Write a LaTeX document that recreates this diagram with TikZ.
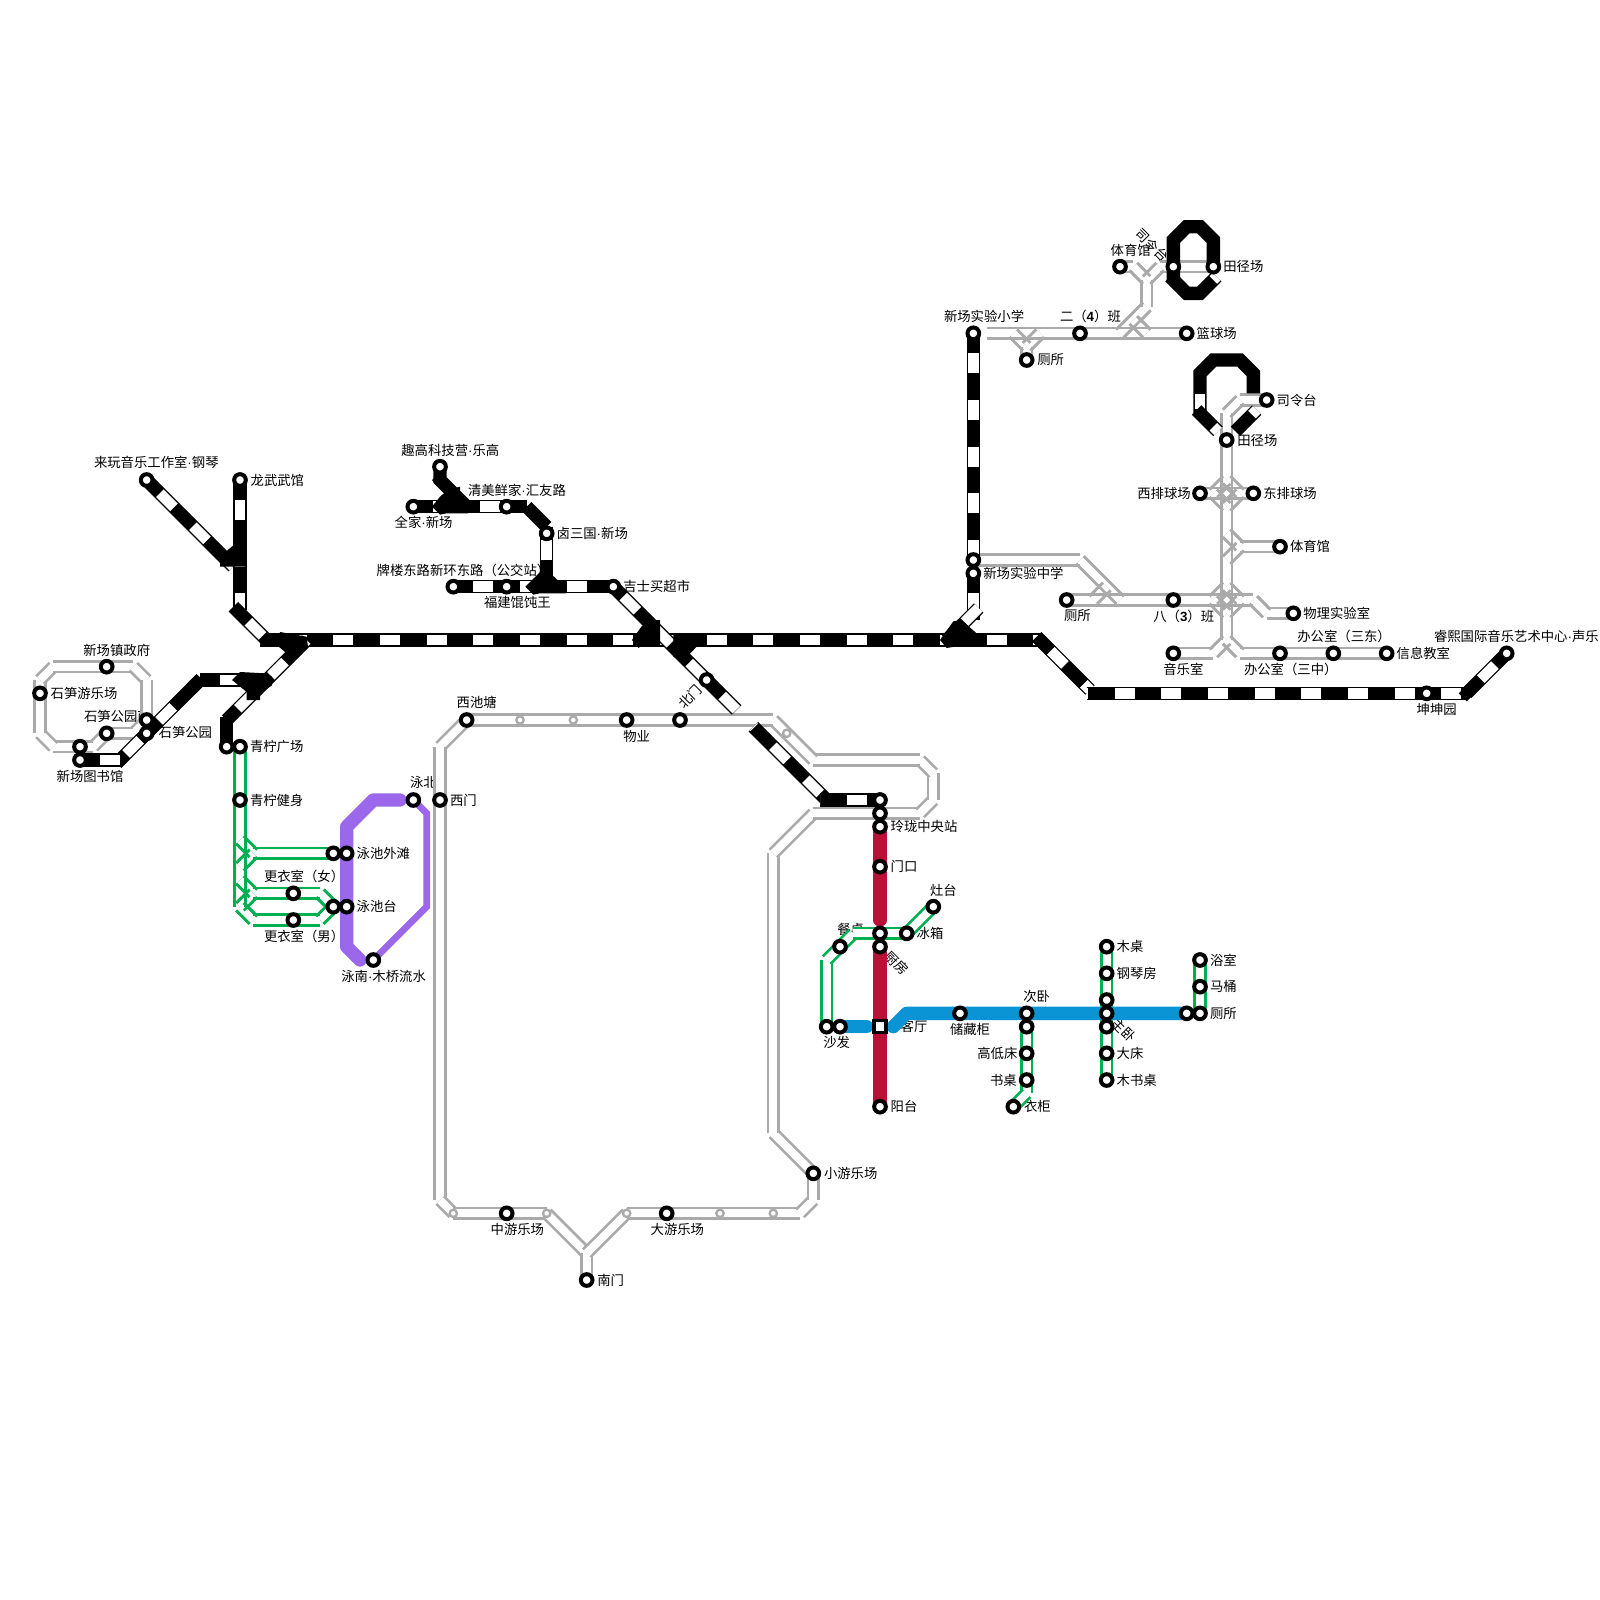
\documentclass[tikz,border=0pt]{standalone}
\usepackage{fontspec}
\setmainfont{Noto Sans CJK SC}
\newfontfamily\latf{Liberation Sans}
\newcommand\dt{{\latf ·}}
\usetikzlibrary{decorations.pathreplacing,calc}
\pgfdeclarelayer{front}
\pgfsetlayers{main,front}
\definecolor{grayline}{HTML}{AAAAAA}
\definecolor{greenline}{HTML}{00B050}
\definecolor{redline}{HTML}{BA1139}
\definecolor{blueline}{HTML}{0A94D6}
\definecolor{purpleline}{HTML}{9B68EC}
\tikzset{
  stn/.style={circle,draw=black,fill=white,line width=0.12cm,minimum size=0.35cm,inner sep=0pt,outer sep=0pt},
  smallstn/.style={circle,draw=grayline,fill=white,line width=0.07cm,minimum size=0.22cm,inner sep=0pt,outer sep=0pt},
  sqstn/.style={rectangle,draw=black,fill=white,line width=0.1cm,minimum size=0.36cm,inner sep=0pt,outer sep=0pt},
  lb/.style={anchor=west,inner sep=0pt,outer sep=0pt,font=\fontsize{11.4}{13}\selectfont},
  lbc/.style={anchor=center,inner sep=0pt,outer sep=0pt,font=\fontsize{11.4}{13}\selectfont},
  dbl/.style={decorate,decoration={show path construction,
    lineto code={
      \draw[line width=0.4cm,#1,line cap=butt] (\tikzinputsegmentfirst)--(\tikzinputsegmentlast);
      \draw[line width=0.24cm,white,line cap=butt] (\tikzinputsegmentfirst)--(\tikzinputsegmentlast);
    }}},
  edg/.style={decorate,decoration={show path construction,
    lineto code={
      \coordinate (Fp) at (\tikzinputsegmentfirst);
      \coordinate (Lp) at (\tikzinputsegmentlast);
      \draw[line width=0.08cm,#1,line cap=butt] ($(Fp)!0.16cm!90:(Lp)$)--($(Lp)!0.16cm!-90:(Fp)$);
      \draw[line width=0.08cm,#1,line cap=butt] ($(Fp)!0.16cm!-90:(Lp)$)--($(Lp)!0.16cm!90:(Fp)$);
    }}},
  blko/.style={line width=0.4cm,black,line cap=butt,miter limit=10},
  blki/.style={line width=0.32cm,white,line cap=butt},
  wide/.style={line width=0.4cm,line cap=round,line join=round},
}
\newcommand\blk[2]{\pgfmathsetmacro\dph{(3.5-#1)*0.4}
  \draw[blko] #2; \draw[blki,dash pattern=on 0.6cm off 0.8cm,dash phase=\dph cm] #2;}
\newcommand\lab[4]{\node[lb] (#1) at (#2,#3) {#4};}
\newcommand\st[3]{\node[stn] (#1) at (#2,#3) {};}
\newcommand\sms[3]{\node[smallstn] (#1) at (#2,#3) {};}
% gray interchanges, drawn once filled and once as bare edges
\newcommand\junctionsGray[1]{
\path[#1] (74,25)--(ers.center)--(lq.center);
\path[#1] (csb.center)--(77,26)--(76,25);
\path[#1] (77,26)--(78,25);
\path[#1] (tyg.center)--(85,20)--(86,21)--(86,23)--(85,24)--(84,25);
\path[#1] (85,24)--(86,25);
\path[#1] (tjz.center)--(87,20)--(86,21);
\path[#1] (tjz.center)--(tj.center);
\path[#1] (slt.center)--(93,30)--(92,31)--(tjb.center)--(92,48);
\path[#1] (92,48)--(91,49)--(yy.center);
\path[#1] (92,48)--(93,49)--(bgs.center)--(bgd.center)--(xx.center);
\path[#1] (xp.center)--(dp.center);
\path[#1] (91,37)--(92,36);\path[#1] (91,37)--(92,38);
\path[#1] (93,37)--(92,36);\path[#1] (93,37)--(92,38);
\path[#1] (tyb.center)--(93,41)--(92,40);\path[#1] (93,41)--(92,42);
\path[#1] (csc.center)--(bs.center)--(94,45);
\path[#1] (94,45)--(95,46)--(wl.center);
\path[#1] (91,45)--(92,44);\path[#1] (91,45)--(92,46);
\path[#1] (93,45)--(92,44);\path[#1] (93,45)--(92,46);
\path[#1] (xzz.center)--(81,42)--(84,45);
\path[#1] (83,44)--(82,45);
}
\newcommand\junctionsGreen[1]{
\path[#1] (qn.center)--(qnj.center)--(18,68);
\path[#1] (ywz.center)--(19,64)--(18,63);\path[#1] (19,64)--(18,65);
\path[#1] (ytz.center)--(24,67)--(gf.center)--(19,67)--(18,66);\path[#1] (19,67)--(18,68);
\path[#1] (ytz.center)--(24,69)--(gm.center)--(19,69)--(18,68);
}
\begin{document}
\begin{tikzpicture}[x=0.4cm,y=-0.4cm]
\path[use as bounding box,fill=white] (0,0) rectangle (120,120);
% labels
\lab{l1}{18.8}{36}{龙武武馆}
\lab{l2}{7.05}{34.7}{来玩音乐工作室\dt 钢琴}
\lab{l3}{6.25}{48.75}{新场镇政府}
\lab{l4}{3.8}{52}{石笋游乐场}
\lab{l5}{6.3}{53.7}{石笋公园南}
\lab{l6}{11.9}{54.95}{石笋公园}
\lab{l7}{4.25}{58.2}{新场图书馆}
\lab{l8}{18.75}{56}{青柠广场}
\lab{l9}{18.75}{60}{青柠健身}
\lab{l10}{30.1}{33.75}{趣高科技营\dt 乐高}
\lab{l11}{35.1}{36.75}{清美鲜家\dt 汇友路}
\lab{l12}{29.6}{39.2}{全家\dt 新场}
\lab{l13}{41.75}{40}{卤三国\dt 新场}
\lab{l14}{28.25}{42.75}{牌楼东路新环东路（公交站）}
\lab{l15}{36.3}{45.2}{福建馄饨王}
\lab{l16}{46.75}{44}{吉士买超市}
\lab{l17}{34.25}{52.7}{西池塘}
\lab{l18}{46.75}{55.2}{物业}
\node[lbc,rotate=45] (l19) at (51.75,52.25) {北门};
\lab{l20}{83.3}{18.75}{体育馆}
\node[lbc,rotate=-45] (l21) at (86.4,18.4) {司令台};
\lab{l22}{91.75}{20}{田径场}
\lab{l23}{70.8}{23.7}{新场实验小学}
\lab{l24}{79.5}{23.7}{二（{\latf\bfseries 4}）班}
\lab{l25}{89.75}{25}{篮球场}
\lab{l26}{77.8}{27}{厕所}
\lab{l27}{95.75}{30}{司令台}
\lab{l28}{92.8}{33}{田径场}
\lab{l29}{85.3}{37}{西排球场}
\lab{l30}{94.75}{37}{东排球场}
\lab{l31}{96.75}{41}{体育馆}
\lab{l32}{73.75}{43}{新场实验中学}
\lab{l33}{79.8}{46.2}{厕所}
\lab{l34}{86.5}{46.2}{八（{\latf\bfseries 3}）班}
\lab{l35}{97.75}{46}{物理实验室}
\lab{l36}{87.25}{50.2}{音乐室}
\lab{l37}{93.3}{50.2}{办公室（三中）}
\lab{l38}{97.3}{47.7}{办公室（三东）}
\lab{l39}{104.75}{49}{信息教室}
\lab{l40}{107.55}{47.7}{睿熙国际音乐艺术中心\dt 声乐}
\lab{l41}{106.25}{53.2}{坤坤园}
\lab{l42}{66.8}{61.95}{玲珑中央站}
\lab{l43}{66.8}{65}{门口}
\lab{l44}{69.75}{66.75}{灶台}
\lab{l45}{68.75}{70}{冰箱}
\lab{l46}{62.8}{69.7}{餐桌}
\node[lbc,rotate=-45] (l47) at (67.25,72.25) {厨房};
\lab{l48}{67.55}{76.95}{客厅}
\lab{l49}{71.25}{77.2}{储藏柜}
\lab{l50}{61.75}{78.2}{沙发}
\lab{l51}{66.8}{83}{阳台}
\lab{l52}{73.3}{79}{高低床}
\lab{l53}{74.25}{81}{书桌}
\lab{l54}{76.75}{74.7}{次卧}
\lab{l55}{76.8}{83}{衣柜}
\lab{l56}{83.75}{71}{木桌}
\lab{l57}{83.75}{73}{钢琴房}
\node[lbc,rotate=-45] (l58) at (84.3,77.25) {主卧};
\lab{l59}{83.75}{79}{大床}
\lab{l60}{83.75}{81}{木书桌}
\lab{l61}{90.75}{72}{浴室}
\lab{l62}{90.75}{74}{马桶}
\lab{l63}{90.75}{76}{厕所}
\lab{l64}{30.75}{58.7}{泳北}
\lab{l65}{33.75}{60}{西门}
\lab{l66}{26.75}{64}{泳池外滩}
\lab{l67}{19.8}{65.7}{更衣室（女）}
\lab{l68}{26.75}{68}{泳池台}
\lab{l69}{19.8}{70.2}{更衣室（男）}
\lab{l70}{25.6}{73.2}{泳南\dt 木桥流水}
\lab{l71}{61.8}{88}{小游乐场}
\lab{l72}{36.8}{92.2}{中游乐场}
\lab{l73}{48.8}{92.2}{大游乐场}
\lab{l74}{44.8}{96}{南门}
% stations on front layer
\begin{pgfonlayer}{front}
\st{laiwan}{11}{36}\st{longwu}{18}{36}\st{yule}{3}{52}\st{zhengfu}{8}{50}
\st{gyn}{11}{54}\st{gy}{11}{55}\st{gyb}{8}{55}\st{libz}{6}{56}\st{lib}{6}{57}
\st{qnz}{17}{56}\st{qn}{18}{56}\st{qnj}{18}{60}
\st{qugao}{33}{35}\st{qj}{31}{38}\st{qm}{38}{38}\st{lu}{41}{40}
\st{pl}{34}{44}\st{fj}{38}{44}\st{js}{46}{44}\st{bmb}{53}{51}
\st{xct}{35}{54}\st{wy}{47}{54}\st{bm}{51}{54}\st{xm}{33}{60}
\st{yb}{31}{60}\st{ywz}{25}{64}\st{yw}{26}{64}\st{gf}{22}{67}\st{gm}{22}{69}
\st{ytz}{25}{68}\st{yt}{26}{68}\st{yn}{28}{72}
\st{zy}{38}{91}\st{dy}{50}{91}\st{nm}{44}{96}\st{xy}{61}{88}
\st{sa}{66}{60}\st{sb}{66}{61}\st{ll}{66}{62}\st{mk}{66}{65}
\st{zt}{70}{68}\st{bx}{68}{70}\st{cz}{66}{70}\st{cf}{66}{71}\st{ck}{63}{71}
\st{sfz}{62}{77}\st{sf}{63}{77}\node[sqstn] (kt) at (66,77) {};
\st{yangt}{66}{83}\st{cc}{72}{76}\st{cw}{77}{76}\st{cy}{77}{77}\st{gd}{77}{79}
\st{sz}{77}{81}\st{yg}{76}{83}
\st{mz}{83}{71}\st{gq}{83}{73}\st{ca}{83}{75}\st{cb}{83}{76}\st{zw}{83}{77}
\st{dc}{83}{79}\st{ms}{83}{81}
\st{ws}{90}{72}\st{mt}{90}{74}\st{csz}{89}{76}\st{cs}{90}{76}
\st{tyg}{84}{20}\st{tjz}{88}{20}\st{tj}{91}{20}\st{xsxx}{73}{25}\st{ers}{81}{25}
\st{lq}{89}{25}\st{csb}{77}{27}\st{slt}{95}{30}\st{tjb}{92}{33}
\st{xp}{90}{37}\st{dp}{94}{37}\st{tyb}{96}{41}
\st{xzz}{73}{42}\st{xz}{73}{43}\st{csc}{80}{45}\st{bs}{88}{45}\st{wl}{97}{46}
\st{yy}{88}{49}\st{bgs}{96}{49}\st{bgd}{100}{49}\st{xx}{104}{49}
\st{kk}{107}{52}\st{rx}{113}{49}
\sms{ga}{39}{54}\sms{gb}{43}{54}\sms{gc}{59}{55}\sms{gd2}{34}{91}\sms{ge}{41}{91}
\sms{gf2}{47}{91}\sms{gg}{54}{91}\sms{gh}{58}{91}
\end{pgfonlayer}
% gray double lines
\path[dbl=grayline] (libz.center)--(4,56)--(3,55)--(yule.center)--(3,51)--(4,50)--(zhengfu.center)--(10,50)--(11,51)--(gyn.center)--(10,55)--(gyb.center)--(7,56)--(libz.center);
\path[dbl=grayline] (xct.center)--(33,56)--(xm.center)--(33,90)--(gd2.center)--(zy.center)--(ge.center)--(44,94)--(nm.center);
\path[dbl=grayline] (44,94)--(gf2.center)--(dy.center)--(60,91)--(61,90)--(xy.center)--(58,85)--(58,64)--(61,61)--(sb.center)--(69,61)--(70,60)--(70,58)--(69,57)--(61,57)--(58,54)--(bm.center)--(wy.center)--(xct.center);
\junctionsGray{dbl=grayline}
\junctionsGray{edg=grayline}
% wide coloured lines
\draw[wide,purpleline] (27,72)--(26,71)--(26,62)--(28,60)--(30,60);
\draw[line width=0.2cm,purpleline,line join=miter] (yb.center)--(32,61)--(32,68)--(yn.center);
\draw[wide,redline] (ll.center)--(66,69);
\draw[wide,redline] (cf.center)--(yangt.center);
% green double lines
\junctionsGreen{dbl=greenline}
\junctionsGreen{edg=greenline}
\path[dbl=greenline] (sfz.center)--(62,72)--(ck.center)--(64,70)--(cz.center)--(bx.center)--(zt.center);
\path[dbl=greenline] (cy.center)--(gd.center)--(sz.center)--(77,82)--(yg.center);
\path[dbl=greenline] (mz.center)--(ms.center);
\path[dbl=greenline] (ws.center)--(cs.center);
% blue
\draw[wide,blueline] (sf.center)--(65,77);
\draw[wide,blueline] (67,77)--(68,76)--(csz.center);
% black railway lines
\blk{2}{(19.5,48)--(78,48)}
\blk{1.5}{(77.75,47.75)--(81.75,51.75)}
\blk{2.1}{(81.5,52)--(110,52)}
\blk{1.5}{(110,52)--(rx.center)}
\blk{1.4}{(laiwan.center)--(17.5,42.5)}
\blk{1.5}{(longwu.center)--(18,45.75)}
\blk{1.6}{(17.5,45.5)--(20,48)}
\blk{2.3}{(23,48)--(17,54)}
\draw[blko] (17,53.75)--(qnz.center);
\blk{1.5}{(15,51)--(19.5,51)}
\blk{1}{(8.75,57.25)--(15,51)}
\draw[blko] (14.3,51.7)--(15.1,50.9);
\blk{1.5}{(lib.center)--(9,57)}
\blk{1.5}{(qj.center)--(39.5,38)}
\draw[blko] (qugao.center)--(33,36)--(35,38);
\draw[blko] (39.5,38)--(41,39.5);
\blk{1}{(41,39.5)--(41,44)}
\blk{1.5}{(pl.center)--(js.center)}
\blk{1.05}{(js.center)--(55.25,53.25)}
\blk{2.08}{(56.5,54.5)--(62,60)}
\blk{2}{(61.5,60)--(sa.center)}
\blk{1.5}{(xsxx.center)--(xzz.center)}
\blk{1.5}{(xz.center)--(73,46.5)}
\blk{0}{(73.4,45.6)--(71,48)}
% ring 1
\draw[blko] (tjz.center)--(88,21);
\draw[blko] (88,21)--(88,18)--(89,17)--(90,17)--(91,18)--(tj.center);
\draw[blko] (87.75,20.75)--(89,22)--(90,22)--(91.25,20.75);
\draw[blki] (91,21)--(91.25,20.75);
% ring 2
\draw[blko] (94,29.5)--(94,28)--(93,27)--(91,27)--(90,28)--(90,31);
\draw[blki] (90,29.55)--(90,30.7);
\draw[blko] (89.75,30.75)--(91.35,32.35);
\draw[blki] (91,32)--(91.35,32.35);
\draw[blko] (92.65,32.35)--(94.25,30.75);
\draw[blki] (93.9,31.1)--(94.25,30.75);
% junction blobs
\fill[black] (16.5,41.75)--(17.5,40.9)--(18.5,41)--(18.5,42.5)--(16.5,42.5)--cycle;
\fill[black] (21,47.4)--(23,47.75)--(23.1,48.5)--(22.1,49.5)--(20.9,48.5)--cycle;
\fill[black] (18,50.4)--(19.9,50.5)--(20.4,50.75)--(20.4,51.4)--(19.5,52)--(19.5,52.5)--(18.5,52.5)--(18.5,51.9)--(17.4,51)--cycle;
\fill[black] (33,37.25)--(33.6,36.75)--(34.5,36.5)--(34.5,37.5)--(35.1,37.6)--(35.1,38.5)--(33.5,38.5)--(33,38.6)--(32.4,38)--cycle;
\fill[black] (32.4,36)--(33,35.4)--(33.6,36)--(33,36.6)--cycle;
\fill[black] (41,42.75)--(42.25,43.9)--(42.45,44.5)--(40.5,44.5)--(40,44.6)--(39.4,44)--(40.4,43)--cycle;
\fill[black] (48.1,47)--(48.75,46.5)--(49.5,46.5)--(49.5,48.5)--(48,48.5)--(47.9,48.6)--(47.4,48)--cycle;
\fill[black] (50.5,47.5)--(52.25,47.5)--(52.25,48.5)--(51.4,49.4)--(51,49.5)--(50.5,49.25)--cycle;
\fill[black] (71.5,46.6)--(72.1,46.5)--(73.25,47.5)--(73.25,48.5)--(71.6,48.5)--(71,48.6)--(70.5,48)--cycle;
\fill[black] (109.4,52)--(110,51.4)--(110.5,52.1)--(110,52.6)--cycle;
\end{tikzpicture}
\end{document}
